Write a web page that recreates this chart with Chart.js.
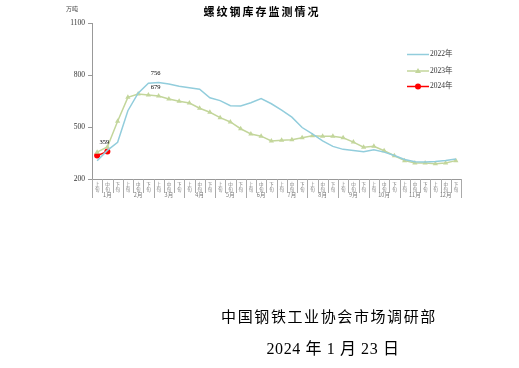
<!DOCTYPE html>
<html lang="zh">
<head>
<meta charset="UTF-8">
<script src="https://cdn.jsdelivr.net/npm/chart.js"></script>
<style>
  html, body { margin: 0; padding: 0; background: #ffffff; }
  #wrap { width: 519px; height: 368px; }
</style>
</head>
<body>
<div id="wrap"><canvas id="stockChart" width="519" height="368"></canvas></div>
<script>
// 旬度 categories: 12 months x 上/中/下旬
const months = ['1月','2月','3月','4月','5月','6月','7月','8月','9月','10月','11月','12月'];
const periods = ['上旬','中旬','下旬'];
const labels = [];
months.forEach(m => periods.forEach(p => labels.push(m + p)));

const yTicks = [200, 500, 800, 1100];

// 万吨
const data2022 = [305, 365, 412, 594, 695, 752, 756, 748, 735, 727, 718, 669,
                  652, 623, 621, 640, 664, 634, 597, 557, 497, 461, 420, 388,
                  371, 365, 357, 369, 355, 336, 313, 300, 298, 301, 307, 315];
const data2023 = [355, 385, 533, 671, 690, 684, 679, 662, 648, 638, 608, 585,
                  554, 529, 490, 460, 447, 419, 423, 427, 438, 450, 446, 446,
                  438, 413, 383, 389, 363, 334, 306, 292, 292, 288, 292, 306];
const data2024 = [335, 359];

// which points carry a value label: [datasetIndex, pointIndex]
const valueLabels = [[2, 1], [0, 6], [1, 6]];

const cjk = '"Noto Sans CJK SC", sans-serif';
const serif = '"Liberation Serif", "Noto Sans CJK SC", serif';

const decorPlugin = {
  id: 'decor',
  afterDraw(chart) {
    const ctx = chart.ctx;
    const x = chart.scales.x;
    const area = chart.chartArea;
    ctx.save();

    // title + unit
    ctx.fillStyle = '#000';
    ctx.textAlign = 'center';
    ctx.textBaseline = 'middle';
    ctx.font = 'bold 11px ' + cjk;
    ctx.letterSpacing = '2px';
    ctx.fillText('螺纹钢库存监测情况', 262, 12);
    ctx.letterSpacing = '0px';
    ctx.font = '6px ' + cjk;
    ctx.fillStyle = '#444';
    ctx.fillText('万吨', 72, 9);

    // x axis ticks and labels
    ctx.strokeStyle = '#aaa';
    ctx.lineWidth = 1;
    const step = (x.getPixelForValue(1) - x.getPixelForValue(0));
    for (let i = 0; i <= labels.length; i++) {
      const px = Math.round(x.getPixelForValue(i) - step / 2) + 0.5;
      const long = i % 3 === 0;
      ctx.beginPath();
      ctx.moveTo(px, area.bottom);
      ctx.lineTo(px, area.bottom + (long ? 19 : 14));
      ctx.stroke();
    }
    ctx.fillStyle = '#777';
    ctx.font = '4.5px ' + cjk;
    labels.forEach((l, i) => {
      const cx = x.getPixelForValue(i);
      const p = periods[i % 3];
      ctx.fillText(p[0], cx, area.bottom + 5);
      ctx.fillText(p[1], cx, area.bottom + 10);
    });
    ctx.font = '5.5px ' + cjk;
    months.forEach((m, k) => {
      ctx.fillText(m, x.getPixelForValue(k * 3 + 1), area.bottom + 16);
    });

    // value labels
    ctx.fillStyle = '#000';
    ctx.font = '6.5px ' + serif;
    valueLabels.forEach(([d, i]) => {
      const pt = chart.getDatasetMeta(d).data[i];
      const v = chart.data.datasets[d].data[i];
      ctx.fillText(String(v), pt.x - 3, pt.y - 9);
    });

    // legend
    ctx.textAlign = 'left';
    ctx.font = '7.5px ' + serif;
    const rows = [54.5, 71, 86.5];
    chart.data.datasets.forEach((ds, k) => {
      const y = rows[k];
      ctx.strokeStyle = ds.borderColor;
      ctx.lineWidth = ds.borderWidth;
      ctx.beginPath();
      ctx.moveTo(407, y);
      ctx.lineTo(429, y);
      ctx.stroke();
      ctx.fillStyle = ds.pointBackgroundColor;
      if (ds.pointStyle === 'triangle') {
        ctx.beginPath();
        ctx.moveTo(418, y - 3);
        ctx.lineTo(421, y + 2);
        ctx.lineTo(415, y + 2);
        ctx.closePath();
        ctx.fill();
      } else if (ds.pointRadius > 0) {
        ctx.beginPath();
        ctx.arc(418, y, 3, 0, Math.PI * 2);
        ctx.fill();
      }
      ctx.fillStyle = '#333';
      ctx.fillText(ds.label, 430, y);
    });

    // footer
    ctx.fillStyle = '#000';
    ctx.textAlign = 'center';
    ctx.font = '15px ' + cjk;
    ctx.letterSpacing = '1.6px';
    ctx.fillText('中国钢铁工业协会市场调研部', 329, 316);
    ctx.font = '16px ' + serif;
    ctx.letterSpacing = '0.6px';
    ctx.fillText('2024 年 1 月 23 日', 333, 350);
    ctx.restore();
  }
};

new Chart(document.getElementById('stockChart'), {
  type: 'line',
  data: {
    labels: labels,
    datasets: [
      {
        label: '2022年', data: data2022,
        borderColor: '#92cddc', backgroundColor: '#92cddc', pointBackgroundColor: '#92cddc',
        borderWidth: 1.5, pointRadius: 0, tension: 0
      },
      {
        label: '2023年', data: data2023,
        borderColor: '#c3d69b', backgroundColor: '#c3d69b', pointBackgroundColor: '#c3d69b',
        borderWidth: 1.5, pointRadius: 3, pointStyle: 'triangle', pointBorderWidth: 0, tension: 0
      },
      {
        label: '2024年', data: data2024,
        borderColor: '#ff0000', backgroundColor: '#ff0000', pointBackgroundColor: '#ff0000',
        borderWidth: 1.5, pointRadius: 3, pointBorderWidth: 0, tension: 0
      }
    ]
  },
  options: {
    responsive: false,
    animation: false,
    layout: { padding: { left: 62, right: 58, top: 23, bottom: 0 } },
    scales: {
      x: {
        offset: true,
        grid: { display: false },
        border: { color: '#999' },
        ticks: { display: false },
        afterFit: s => { s.height = 189; }
      },
      y: {
        min: 200, max: 1100,
        afterBuildTicks: s => { s.ticks = yTicks.map(v => ({ value: v })); },
        afterFit: s => { s.width = 30; },
        grid: { display: true, drawOnChartArea: false, tickLength: 4, color: '#999' },
        border: { color: '#999' },
        ticks: {
          color: '#333', padding: 3,
          font: { family: 'Liberation Serif', size: 7.5 },
          callback: v => String(v)
        }
      }
    },
    plugins: {
      legend: { display: false },
      tooltip: { enabled: false }
    }
  },
  plugins: [decorPlugin]
});
</script>
</body>
</html>
